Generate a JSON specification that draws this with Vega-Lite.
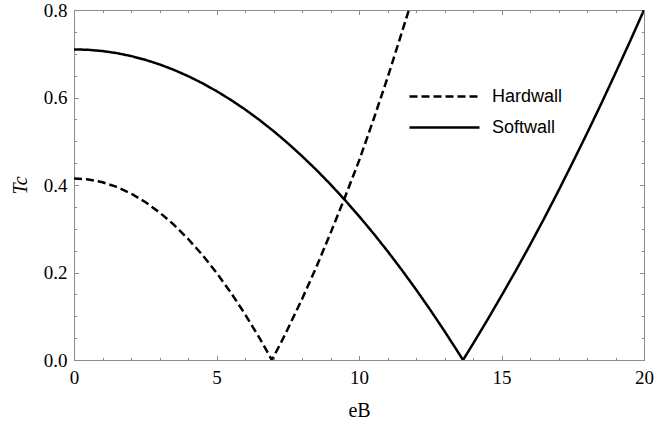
{
  "$schema": "https://vega.github.io/schema/vega-lite/v6.json",
  "width": 570,
  "height": 350,
  "autosize": {"type": "none"},
  "padding": {"left": 74, "top": 10, "right": 12, "bottom": 67},
  "background": "white",
  "data": {"values": [
    {"model": "Hardwall", "eB": 0, "Tc": 0.415},
    {"model": "Hardwall", "eB": 0.5, "Tc": 0.4128},
    {"model": "Hardwall", "eB": 1, "Tc": 0.4064},
    {"model": "Hardwall", "eB": 1.5, "Tc": 0.3956},
    {"model": "Hardwall", "eB": 2, "Tc": 0.3806},
    {"model": "Hardwall", "eB": 2.5, "Tc": 0.3611},
    {"model": "Hardwall", "eB": 3, "Tc": 0.3374},
    {"model": "Hardwall", "eB": 3.5, "Tc": 0.3095},
    {"model": "Hardwall", "eB": 4, "Tc": 0.2771},
    {"model": "Hardwall", "eB": 4.5, "Tc": 0.2405},
    {"model": "Hardwall", "eB": 5, "Tc": 0.1996},
    {"model": "Hardwall", "eB": 5.5, "Tc": 0.1544},
    {"model": "Hardwall", "eB": 6, "Tc": 0.1048},
    {"model": "Hardwall", "eB": 6.5, "Tc": 0.051},
    {"model": "Hardwall", "eB": 6.75, "Tc": 0.0224},
    {"model": "Hardwall", "eB": 6.94, "Tc": 0},
    {"model": "Hardwall", "eB": 7.25, "Tc": 0.0379},
    {"model": "Hardwall", "eB": 7.5, "Tc": 0.071},
    {"model": "Hardwall", "eB": 8, "Tc": 0.139},
    {"model": "Hardwall", "eB": 8.5, "Tc": 0.212},
    {"model": "Hardwall", "eB": 9, "Tc": 0.29},
    {"model": "Hardwall", "eB": 9.5, "Tc": 0.371},
    {"model": "Hardwall", "eB": 10, "Tc": 0.455},
    {"model": "Hardwall", "eB": 10.5, "Tc": 0.548},
    {"model": "Hardwall", "eB": 11, "Tc": 0.645},
    {"model": "Hardwall", "eB": 11.5, "Tc": 0.748},
    {"model": "Hardwall", "eB": 11.75, "Tc": 0.8},
    {"model": "Softwall", "eB": 0, "Tc": 0.71},
    {"model": "Softwall", "eB": 0.5, "Tc": 0.709},
    {"model": "Softwall", "eB": 1, "Tc": 0.7062},
    {"model": "Softwall", "eB": 1.5, "Tc": 0.7014},
    {"model": "Softwall", "eB": 2, "Tc": 0.6948},
    {"model": "Softwall", "eB": 2.5, "Tc": 0.6862},
    {"model": "Softwall", "eB": 3, "Tc": 0.6757},
    {"model": "Softwall", "eB": 3.5, "Tc": 0.6633},
    {"model": "Softwall", "eB": 4, "Tc": 0.649},
    {"model": "Softwall", "eB": 4.5, "Tc": 0.6328},
    {"model": "Softwall", "eB": 5, "Tc": 0.6147},
    {"model": "Softwall", "eB": 5.5, "Tc": 0.5947},
    {"model": "Softwall", "eB": 6, "Tc": 0.5728},
    {"model": "Softwall", "eB": 6.5, "Tc": 0.549},
    {"model": "Softwall", "eB": 7, "Tc": 0.5233},
    {"model": "Softwall", "eB": 7.5, "Tc": 0.4957},
    {"model": "Softwall", "eB": 8, "Tc": 0.4661},
    {"model": "Softwall", "eB": 8.5, "Tc": 0.4347},
    {"model": "Softwall", "eB": 9, "Tc": 0.4014},
    {"model": "Softwall", "eB": 9.5, "Tc": 0.3661},
    {"model": "Softwall", "eB": 10, "Tc": 0.3289},
    {"model": "Softwall", "eB": 10.5, "Tc": 0.2899},
    {"model": "Softwall", "eB": 11, "Tc": 0.2489},
    {"model": "Softwall", "eB": 11.5, "Tc": 0.206},
    {"model": "Softwall", "eB": 12, "Tc": 0.1613},
    {"model": "Softwall", "eB": 12.5, "Tc": 0.1146},
    {"model": "Softwall", "eB": 13, "Tc": 0.066},
    {"model": "Softwall", "eB": 13.5, "Tc": 0.0155},
    {"model": "Softwall", "eB": 13.65, "Tc": 0},
    {"model": "Softwall", "eB": 14, "Tc": 0.0369},
    {"model": "Softwall", "eB": 14.5, "Tc": 0.091},
    {"model": "Softwall", "eB": 15, "Tc": 0.147},
    {"model": "Softwall", "eB": 15.5, "Tc": 0.204},
    {"model": "Softwall", "eB": 16, "Tc": 0.263},
    {"model": "Softwall", "eB": 16.5, "Tc": 0.324},
    {"model": "Softwall", "eB": 17, "Tc": 0.387},
    {"model": "Softwall", "eB": 17.5, "Tc": 0.452},
    {"model": "Softwall", "eB": 18, "Tc": 0.518},
    {"model": "Softwall", "eB": 18.5, "Tc": 0.586},
    {"model": "Softwall", "eB": 19, "Tc": 0.656},
    {"model": "Softwall", "eB": 19.5, "Tc": 0.727},
    {"model": "Softwall", "eB": 20, "Tc": 0.8}
  ]},
  "config": {
    "view": {"stroke": null},
    "axis": {
      "domainColor": "#8c8c8c",
      "tickColor": "#8c8c8c",
      "domainWidth": 1,
      "tickWidth": 1,
      "labelFont": "Liberation Serif, Times New Roman, Times, serif",
      "labelFontSize": 19,
      "labelColor": "black",
      "labelFlush": false,
      "labelOverlap": false,
      "titleFont": "Liberation Serif, Times New Roman, Times, serif",
      "titleFontSize": 20,
      "titleFontWeight": "normal",
      "titleColor": "black",
      "grid": false
    }
  },
  "layer": [
    {
      "mark": {"type": "line", "color": "black", "strokeWidth": 2.5, "clip": true},
      "encoding": {
        "x": {"field": "eB", "type": "quantitative", "scale": {"domain": [0, 20], "nice": false, "zero": false},
              "axis": {"orient": "bottom", "values": [0, 5, 10, 15, 20], "tickSize": -4.5, "labelPadding": 13, "labelFlush": false, "title": "eB", "titlePadding": 13}},
        "y": {"field": "Tc", "type": "quantitative", "scale": {"domain": [0, 0.8], "nice": false},
              "axis": {"orient": "left", "values": [0, 0.2, 0.4, 0.6, 0.8], "format": ".1f", "tickSize": -4.5, "labelPadding": 11.5, "labelFlush": false, "title": "Tc", "titleFontStyle": "italic", "titlePadding": 13}},
        "strokeDash": {"field": "model", "type": "nominal",
                       "scale": {"domain": ["Hardwall", "Softwall"], "range": [[8, 4], [1, 0]]},
                       "legend": {"title": null, "orient": "none", "legendX": 334, "legendY": 71,
                                  "symbolType": "stroke", "symbolSize": 4900, "symbolStrokeWidth": 2.5,
                                  "symbolStrokeColor": "black", "labelFont": "Liberation Sans, Arial, sans-serif", "labelFontSize": 18,
                                  "labelColor": "black", "labelOffset": 11, "clipHeight": 31, "rowPadding": 0}},
        "order": {"field": "eB", "type": "quantitative"}
      }
    },
    {
      "mark": {"type": "point", "opacity": 0},
      "encoding": {
        "x": {"field": "eB", "type": "quantitative",
              "axis": {"orient": "bottom", "values": [0,1,2,3,4,5,6,7,8,9,10,11,12,13,14,15,16,17,18,19,20], "tickSize": -2.7, "labels": false, "domain": false, "title": null}},
        "y": {"field": "Tc", "type": "quantitative",
              "axis": {"orient": "left", "values": [0,0.05,0.1,0.15,0.2,0.25,0.3,0.35,0.4,0.45,0.5,0.55,0.6,0.65,0.7,0.75,0.8], "tickSize": -2.7, "labels": false, "domain": false, "title": null}}
      }
    },
    {
      "mark": {"type": "point", "opacity": 0},
      "encoding": {
        "x": {"field": "eB", "type": "quantitative",
              "axis": {"orient": "top", "values": [0, 5, 10, 15, 20], "tickSize": -4.5, "labels": false, "title": null}},
        "y": {"field": "Tc", "type": "quantitative",
              "axis": {"orient": "right", "values": [0, 0.2, 0.4, 0.6, 0.8], "tickSize": -4.5, "labels": false, "title": null}}
      }
    },
    {
      "mark": {"type": "point", "opacity": 0},
      "encoding": {
        "x": {"field": "eB", "type": "quantitative",
              "axis": {"orient": "top", "values": [0,1,2,3,4,5,6,7,8,9,10,11,12,13,14,15,16,17,18,19,20], "tickSize": -2.7, "labels": false, "domain": false, "title": null}},
        "y": {"field": "Tc", "type": "quantitative",
              "axis": {"orient": "right", "values": [0,0.05,0.1,0.15,0.2,0.25,0.3,0.35,0.4,0.45,0.5,0.55,0.6,0.65,0.7,0.75,0.8], "tickSize": -2.7, "labels": false, "domain": false, "title": null}}
      }
    }
  ],
  "resolve": {"axis": {"x": "independent", "y": "independent"}}
}
